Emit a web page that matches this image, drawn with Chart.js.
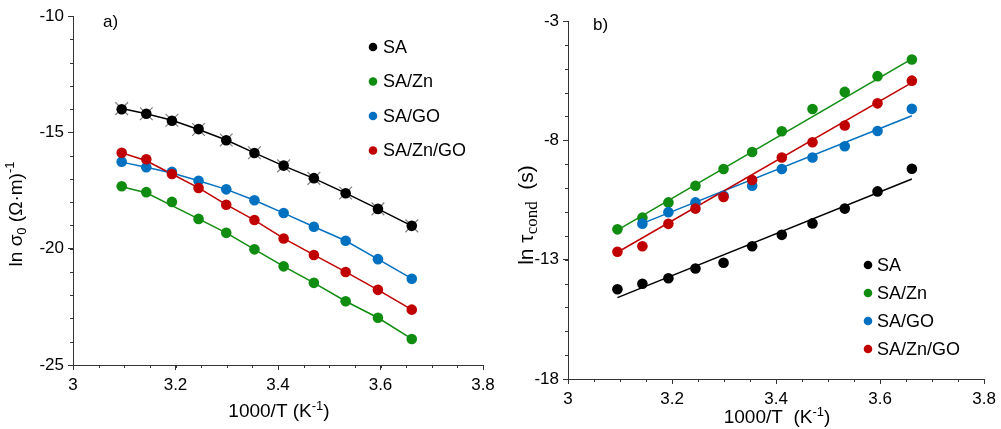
<!DOCTYPE html>
<html>
<head>
<meta charset="utf-8">
<script src="https://cdn.jsdelivr.net/npm/chart.js"></script>
<style>
  html, body { margin: 0; padding: 0; background: #fff; }
  .panel { position: absolute; top: 0; height: 429px; }
</style>
</head>
<body>
<div class="panel" style="left:0;width:500px"><canvas id="chartA" width="500" height="429"></canvas></div>
<div class="panel" style="left:500px;width:501px"><canvas id="chartB" width="501" height="429"></canvas></div>
<script>
// 1000/T values (K^-1), shared by both panels
var invT = [3.095, 3.143, 3.193, 3.245, 3.299, 3.354, 3.411, 3.470, 3.532, 3.595, 3.661];
var seriesNames = ['SA', 'SA/Zn', 'SA/GO', 'SA/Zn/GO'];
var colors = ['#000000', '#108c10', '#0070c0', '#c00000'];

// panel a) ln sigma0
var sigmaSA   = [-14.01, -14.20, -14.50, -14.86, -15.34, -15.89, -16.43, -16.97, -17.62, -18.29, -19.02];
var sigmaZn   = [-17.32, -17.57, -17.99, -18.72, -19.32, -20.03, -20.76, -21.47, -22.26, -22.97, -23.88];
var sigmaGO   = [-16.26, -16.50, -16.70, -17.08, -17.45, -17.92, -18.47, -19.06, -19.66, -20.45, -21.29];
var sigmaZnGO = [-15.88, -16.16, -16.79, -17.39, -18.11, -18.77, -19.56, -20.27, -21.00, -21.77, -22.62];
// fitted curves of panel a)
var sigmaFitSA   = [-13.98, -14.20, -14.48, -14.88, -15.33, -15.88, -16.44, -16.98, -17.61, -18.29, -19.02];
var sigmaFitZn   = [-17.34, -17.60, -18.15, -18.72, -19.32, -20.03, -20.76, -21.47, -22.26, -22.97, -23.88];
var sigmaFitGO   = [-16.28, -16.50, -16.75, -17.08, -17.45, -17.92, -18.47, -19.06, -19.66, -20.45, -21.29];
var sigmaFitZnGO = [-15.88, -16.22, -16.79, -17.39, -18.11, -18.77, -19.56, -20.27, -21.00, -21.77, -22.62];

// panel b) ln tau_cond
var tauSA   = [-14.24, -14.01, -13.78, -13.37, -13.13, -12.44, -11.96, -11.48, -10.86, -10.14, -9.19];
var tauZn   = [-11.73, -11.24, -10.60, -9.90, -9.20, -8.49, -7.62, -6.69, -5.97, -5.31, -4.61];
var tauGO   = [null, -11.49, -11.01, -10.60, -10.32, -9.90, -9.20, -8.72, -8.25, -7.61, -6.68];
var tauZnGO = [-12.67, -12.44, -11.50, -10.86, -10.37, -9.66, -8.72, -8.08, -7.38, -6.45, -5.50];
// linear fits of panel b): end points
var tauFitX     = [3.095, 3.661];
var tauFitGOX   = [3.143, 3.661];
var tauFitSA    = [-14.59, -9.62];
var tauFitZn    = [-11.76, -4.59];
var tauFitGO    = [-11.48, -6.97];
var tauFitZnGO  = [-12.69, -5.58];

function pts(xs, ys) {
  return xs.map(function (x, i) { return { x: x, y: ys[i] }; })
           .filter(function (p) { return p.y !== null; });
}

function dots(label, xs, ys, color, order) {
  return { label: label, data: pts(xs, ys), backgroundColor: color, borderColor: color,
           pointRadius: 5.3, pointHoverRadius: 5.3, borderWidth: 0, showLine: false, order: order };
}
function fitLine(xs, ys, color, order, marker) {
  return { data: pts(xs, ys), showLine: true, borderColor: color, borderWidth: 1.5,
           pointRadius: marker ? 9 : 0, pointStyle: 'crossRot',
           pointBorderColor: '#808080', pointBorderWidth: 1.2,
           fill: false, tension: 0, order: order };
}

// draw text with sub/superscripts
function drawRich(ctx, parts, x, y, rot) {
  ctx.save();
  ctx.translate(x, y);
  ctx.rotate(rot || 0);
  ctx.textBaseline = 'middle';
  ctx.textAlign = 'left';
  ctx.fillStyle = '#000';
  var w = 0;
  parts.forEach(function (p) { ctx.font = p.f; w += ctx.measureText(p.t).width; });
  var cx = -w / 2;
  parts.forEach(function (p) {
    ctx.font = p.f;
    ctx.fillText(p.t, cx, p.dy || 0);
    cx += ctx.measureText(p.t).width;
  });
  ctx.restore();
}

var FONT = '"Liberation Sans", Arial, sans-serif';

var decorPlugin = {
  id: 'decor',
  afterDraw: function (chart, args, o) {
    var ctx = chart.ctx;
    var xs = chart.scales.x, ys = chart.scales.y;
    // minor ticks
    ctx.save();
    ctx.strokeStyle = '#333';
    ctx.lineWidth = 1;
    ctx.beginPath();
    for (var v = ys.min; v <= ys.max + 1e-9; v += o.minorY) {
      var py = Math.round(ys.getPixelForValue(v)) + 0.5;
      ctx.moveTo(xs.left - 3, py); ctx.lineTo(xs.left, py);
    }
    for (var k = 0; k <= Math.round((xs.max - xs.min) / o.minorX); k++) {
      var px = Math.round(xs.getPixelForValue(xs.min + k * o.minorX)) + 0.5;
      ctx.moveTo(px, ys.bottom); ctx.lineTo(px, ys.bottom + 3);
    }
    ctx.stroke();
    ctx.restore();
    // axis titles
    drawRich(ctx, o.yTitle, o.yTitlePos[0], o.yTitlePos[1], -Math.PI / 2);
    drawRich(ctx, o.xTitle, o.xTitlePos[0], o.xTitlePos[1], 0);
    // panel label
    ctx.save();
    ctx.font = '17px ' + FONT;
    ctx.fillStyle = '#000';
    ctx.textBaseline = 'middle';
    ctx.fillText(o.panel, o.panelPos[0], o.panelPos[1]);
    // legend
    ctx.font = '18px ' + FONT;
    seriesNames.forEach(function (name, i) {
      var lx = o.legend.x, ly = o.legend.y + i * o.legend.gap;
      ctx.fillStyle = colors[i];
      ctx.beginPath();
      ctx.arc(lx, ly, 4.3, 0, Math.PI * 2);
      ctx.fill();
      ctx.fillStyle = '#000';
      ctx.fillText(name, lx + o.legend.dx, ly + 1);
    });
    ctx.restore();
  }
};

function axisOpts(min, max, step, fmt, fitW, fitH, isX) {
  var o = {
    type: 'linear', min: min, max: max,
    grid: { drawOnChartArea: false, tickLength: 5, color: '#333' },
    border: { color: '#333', width: 1 },
    ticks: { stepSize: step, color: '#000', padding: isX ? 5 : 4,
             font: { size: 17, family: FONT }, maxRotation: 0,
             callback: fmt },
    title: { display: false }
  };
  if (isX) o.afterFit = function (s) { s.height = fitH; };
  else o.afterFit = function (s) { s.width = fitW; };
  return o;
}
function fmtNum(v) { return String(Number(v.toFixed(1))); }

// ---- panel a ----
new Chart(document.getElementById('chartA').getContext('2d'), {
  type: 'scatter',
  data: {
    datasets: [
      dots('SA', invT, sigmaSA, colors[0], 1),
      dots('SA/Zn', invT, sigmaZn, colors[1], 4),
      dots('SA/GO', invT, sigmaGO, colors[2], 3),
      dots('SA/Zn/GO', invT, sigmaZnGO, colors[3], 2),
      fitLine(invT, sigmaFitSA, colors[0], 5, true),
      fitLine(invT, sigmaFitZn, colors[1], 8),
      fitLine(invT, sigmaFitGO, colors[2], 7),
      fitLine(invT, sigmaFitZnGO, colors[3], 6)
    ]
  },
  options: {
    responsive: false, animation: false, devicePixelRatio: 1,
    layout: { padding: { left: 0, right: 17, top: 16, bottom: 0 } },
    plugins: {
      legend: { display: false }, tooltip: { enabled: false },
      decor: {
        minorX: 0.05, minorY: 1,
        yTitle: [{ t: 'ln σ', f: '19px ' + FONT }, { t: '0', f: '13px ' + FONT, dy: 5 },
                 { t: ' (Ω·m)', f: '19px ' + FONT }, { t: '-1', f: '13px ' + FONT, dy: -7 }],
        yTitlePos: [17, 214],
        xTitle: [{ t: '1000/T (K', f: '19px ' + FONT }, { t: '-1', f: '13px ' + FONT, dy: -6 },
                 { t: ')', f: '19px ' + FONT }],
        xTitlePos: [279, 412],
        panel: 'a)', panelPos: [103, 22],
        legend: { x: 373, y: 47, gap: 34.5, dx: 10 }
      }
    },
    scales: {
      x: axisOpts(3, 3.8, 0.2, fmtNum, 0, 64, true),
      y: axisOpts(-25, -10, 5, function (v) { return String(v); }, 73, 0, false)
    }
  },
  plugins: [decorPlugin]
});

// ---- panel b ----
new Chart(document.getElementById('chartB').getContext('2d'), {
  type: 'scatter',
  data: {
    datasets: [
      dots('SA', invT, tauSA, colors[0], 1),
      dots('SA/Zn', invT, tauZn, colors[1], 4),
      dots('SA/GO', invT, tauGO, colors[2], 3),
      dots('SA/Zn/GO', invT, tauZnGO, colors[3], 2),
      fitLine(tauFitX, tauFitSA, colors[0], 5),
      fitLine(tauFitX, tauFitZn, colors[1], 8),
      fitLine(tauFitGOX, tauFitGO, colors[2], 7),
      fitLine(tauFitX, tauFitZnGO, colors[3], 6)
    ]
  },
  options: {
    responsive: false, animation: false, devicePixelRatio: 1,
    layout: { padding: { left: 0, right: 16, top: 21, bottom: 0 } },
    plugins: {
      legend: { display: false }, tooltip: { enabled: false },
      decor: {
        minorX: 0.05, minorY: 1,
        yTitle: [{ t: 'ln τ', f: '21px ' + FONT }, { t: 'cond', f: '17px "Liberation Serif", serif', dy: 6 },
                 { t: '  (s)', f: '21px ' + FONT }],
        yTitlePos: [27, 215],
        xTitle: [{ t: '1000/T  (K', f: '19px ' + FONT }, { t: '-1', f: '13px ' + FONT, dy: -6 },
                 { t: ')', f: '19px ' + FONT }],
        xTitlePos: [277, 418],
        panel: 'b)', panelPos: [93, 25],
        legend: { x: 368, y: 265, gap: 28, dx: 9 }
      }
    },
    scales: {
      x: axisOpts(3, 3.8, 0.2, fmtNum, 0, 50, true),
      y: axisOpts(-18, -3, 5, function (v) { return String(v); }, 68, 0, false)
    }
  },
  plugins: [decorPlugin]
});
</script>
</body>
</html>
